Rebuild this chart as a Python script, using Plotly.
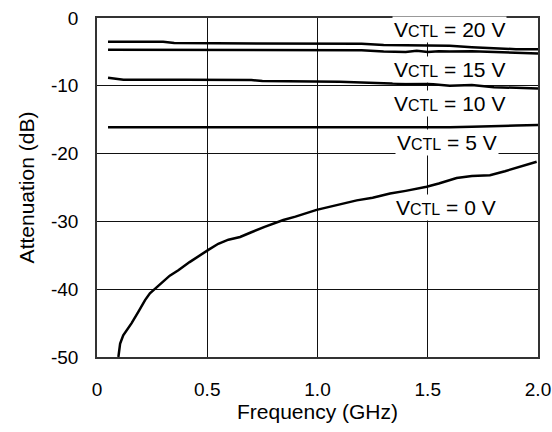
import plotly.graph_objects as go

# ---- data ----
freq_20v = [0.05, 0.30, 0.35, 0.60, 0.70, 0.75, 0.85, 1.00, 1.20, 1.30, 1.40, 1.50, 1.60, 1.70, 1.80, 1.90, 2.00]
att_20v = [-3.5, -3.5, -3.7, -3.7, -3.8, -3.7, -3.75, -3.8, -3.8, -4.0, -4.05, -4.0, -4.1, -4.3, -4.5, -4.6, -4.6]

freq_15v = [0.05, 0.50, 1.00, 1.10, 1.20, 1.30, 1.40, 1.45, 1.50, 1.55, 1.60, 1.70, 1.80, 1.90, 2.00]
att_15v = [-4.7, -4.7, -4.75, -4.8, -4.75, -4.95, -5.0, -4.85, -5.0, -4.9, -4.95, -4.9, -5.0, -5.2, -5.25]

freq_10v = [0.05, 0.12, 0.40, 0.50, 0.70, 0.75, 1.00, 1.10, 1.20, 1.30, 1.40, 1.50, 1.60, 1.70, 1.80, 1.90, 2.00]
att_10v = [-8.8, -9.1, -9.1, -9.15, -9.15, -9.3, -9.3, -9.4, -9.5, -9.6, -9.75, -9.7, -10.0, -9.9, -10.2, -10.3, -10.4]

freq_5v = [0.05, 1.10, 1.20, 1.30, 1.40, 1.50, 1.60, 1.70, 1.80, 1.90, 2.00]
att_5v = [-16.1, -16.1, -16.2, -16.2, -16.1, -16.15, -16.1, -16.05, -15.9, -15.85, -15.8]

freq_0v = [0.097, 0.105, 0.119, 0.14, 0.157, 0.19, 0.218, 0.24, 0.263, 0.30, 0.33, 0.369, 0.42,
           0.505, 0.55, 0.596, 0.649, 0.70, 0.76, 0.845, 0.90, 0.996, 1.05, 1.10, 1.178, 1.25,
           1.329, 1.40, 1.495, 1.55, 1.631, 1.70, 1.782, 1.85, 1.92, 1.994]
att_0v = [-50, -48, -46.8, -45.8, -45.0, -43.2, -41.6, -40.6, -39.9, -38.8, -38.0, -37.2, -36.0,
          -34.2, -33.3, -32.7, -32.3, -31.6, -30.8, -29.8, -29.3, -28.3, -27.9, -27.5, -26.9, -26.5,
          -25.9, -25.5, -24.9, -24.4, -23.6, -23.3, -23.2, -22.6, -21.9, -21.2]

label_volts = ["20", "15", "10", "5", "0"]
label_x = [1.60, 1.60, 1.60, 1.587, 1.582]
label_y = [-1.7, -7.6, -12.6, -18.4, -28.0]

x_tickvals = [0, 0.5, 1.0, 1.5, 2.0]
x_ticktext = ["0", "0.5", "1.0", "1.5", "2.0"]
y_tickvals = [0, -10, -20, -30, -40, -50]
y_ticktext = ["0", "-10", "-20", "-30", "-40", "-50"]

FONT = "Liberation Sans, Arial, sans-serif"

fig = go.Figure()
for fx, fy in [(freq_20v, att_20v), (freq_15v, att_15v), (freq_10v, att_10v),
               (freq_5v, att_5v), (freq_0v, att_0v)]:
    fig.add_trace(go.Scatter(x=fx, y=fy, mode="lines", line=dict(color="black", width=2.5),
                             showlegend=False, hoverinfo="skip"))

for v, lx, ly in zip(label_volts, label_x, label_y):
    t = "V<span style='font-size:16px'>CTL</span> = " + v + " V"
    fig.add_annotation(x=lx, y=ly, text=t, showarrow=False, xanchor="center", yanchor="middle",
                       bgcolor="white", borderpad=1,
                       font=dict(family=FONT, size=21, color="black"))

fig.update_layout(
    width=552, height=432,
    margin=dict(l=97, r=14, t=18, b=75, autoexpand=False),
    paper_bgcolor="white", plot_bgcolor="white",
    font=dict(family=FONT, color="black"),
    showlegend=False,
)
fig.update_xaxes(
    range=[0, 2.0], tickvals=x_tickvals, ticktext=x_ticktext,
    showgrid=True, gridcolor="#111", gridwidth=1,
    showline=True, linecolor="#333", linewidth=1.5, mirror=True,
    zeroline=False, ticks="", ticklabelstandoff=14, automargin=False,
    tickfont=dict(family=FONT, size=19, color="black"),
    title=dict(text="Frequency (GHz)", font=dict(family=FONT, size=21, color="black"), standoff=4),
)
fig.update_yaxes(
    range=[-50, 0], tickvals=y_tickvals, ticktext=y_ticktext,
    showgrid=True, gridcolor="#111", gridwidth=1,
    showline=True, linecolor="#333", linewidth=1.5, mirror=True,
    zeroline=False, ticks="", ticklabelstandoff=13, automargin=False,
    tickfont=dict(family=FONT, size=19, color="black"),
    title=dict(text="Attenuation (dB)", font=dict(family=FONT, size=21, color="black"), standoff=11),
)

fig.write_html("out.html", config={"displayModeBar": False},
               post_script="document.body.style.margin='0';document.body.style.overflow='hidden';")
